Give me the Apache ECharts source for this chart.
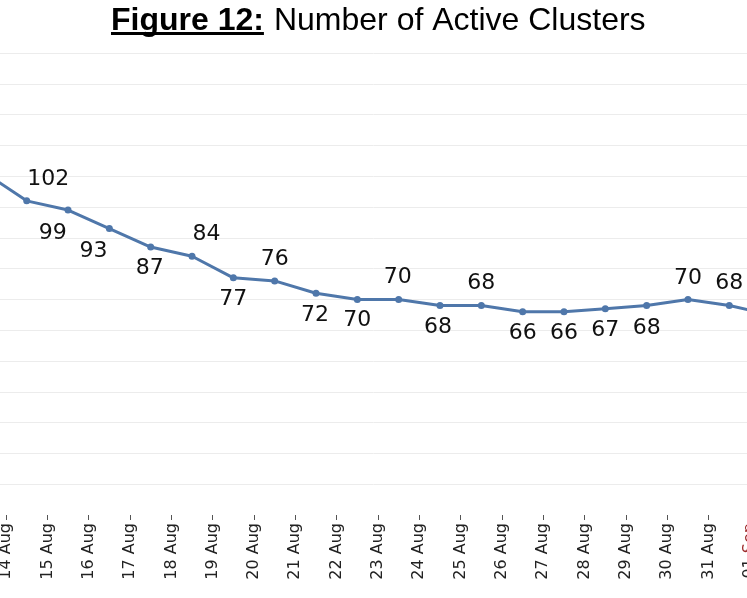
<!DOCTYPE html>
<html>
<head>
<meta charset="utf-8">
<title>Number of Active Clusters</title>
<script src="https://cdn.jsdelivr.net/npm/echarts@6.0.0/dist/echarts.min.js"></script>
<style>
  html, body { margin: 0; padding: 0; background: #fff; }
  #chart { width: 747px; height: 598px; }
</style>
</head>
<body>
<div id="chart"></div>
<script>
// one point per day, the picture is cropped so 13 Aug and 01 Sep sit off the edges
const pointDates = [
  "13 Aug", "14 Aug", "15 Aug", "16 Aug", "17 Aug", "18 Aug", "19 Aug",
  "20 Aug", "21 Aug", "22 Aug", "23 Aug", "24 Aug", "25 Aug", "26 Aug",
  "27 Aug", "28 Aug", "29 Aug", "30 Aug", "31 Aug", "01 Sep"
];

// tick labels sit on the boundaries between points
const tickLabels = [
  "13 Aug", "14 Aug", "15 Aug", "16 Aug", "17 Aug", "18 Aug", "19 Aug",
  "20 Aug", "21 Aug", "22 Aug", "23 Aug", "24 Aug", "25 Aug", "26 Aug",
  "27 Aug", "28 Aug", "29 Aug", "30 Aug", "31 Aug", "01 Sep", "02 Sep"
];

const activeClusters = [
  111, 102, 99, 93, 87, 84, 77, 76, 72, 70,
  70, 68, 68, 66, 66, 67, 68, 70, 68, 65
];

// where each value label was placed by hand, relative to its point
const labelOffsets = [
  [-14, -22], [21.6, -21.7], [-15.3, 23.3], [-15.8, 22.3], [-1, 21.7],
  [14.6, -22.4], [0, 21], [0, -22], [-1, 22], [0, 21],
  [-1, -22], [-2, 22], [0, -22.5], [0, 21.5], [0, 21.5],
  [0, 22], [0, 23], [0, -21.5], [0, -22.7], [0, 22]
];

const lineColor = "#4f77aa";
const titleLeft = 111;
const titleFont = '"Liberation Sans", Arial, sans-serif';

// width of the bold part of the title, for the underline
function measureText(text, font) {
  const ctx = document.createElement("canvas").getContext("2d");
  ctx.font = font;
  return ctx.measureText(text).width;
}
const boldWidth = measureText("Figure 12:", "bold 32px " + titleFont);

// no line at zero, light lines from 10 up to 150
const gridColors = ["rgba(0,0,0,0)"];
for (let i = 0; i < 15; i++) gridColors.push("#ececec");

const chart = echarts.init(document.getElementById("chart"), null, {
  renderer: "canvas"
});

const option = {
  animation: false,
  backgroundColor: "#fff",
  title: {
    left: titleLeft,
    top: 5.5,
    padding: 0,
    text: "{a|Figure 12:}{b|Number of Active Clusters}",
    textStyle: {
      rich: {
        a: { fontFamily: titleFont, fontSize: 32, fontWeight: "bold", color: "#000" },
        b: {
          fontFamily: titleFont,
          fontSize: 32,
          fontWeight: "normal",
          color: "#000",
          padding: [0, 0, 0, 10]
        }
      }
    }
  },
  graphic: [
    {
      type: "rect",
      left: titleLeft,
      top: 32,
      shape: { width: boldWidth, height: 3 },
      style: { fill: "#000" }
    }
  ],
  grid: {
    left: -35.3,
    right: -44.3,
    top: 53,
    bottom: 83,
    containLabel: false,
    outerBoundsMode: "none"
  },
  xAxis: [
    {
      type: "category",
      data: pointDates,
      position: "bottom",
      boundaryGap: true,
      axisLine: { show: false },
      axisTick: { show: false },
      axisLabel: { show: false },
      splitLine: { show: false }
    },
    {
      type: "category",
      data: tickLabels,
      position: "bottom",
      boundaryGap: false,
      axisLine: { show: false },
      axisTick: {
        show: true,
        length: 5,
        interval: 0,
        lineStyle: { color: "#555", width: 1 }
      },
      axisLabel: {
        interval: 0,
        rotate: 90,
        margin: 8,
        fontFamily: "DejaVu Sans",
        fontSize: 16,
        color: "#222",
        formatter: function (val) {
          const parts = val.split(" ");
          return parts[1] === "Sep"
            ? `{n|${parts[0]}} {s|${parts[1]}}`
            : val;
        },
        rich: {
          n: { fontFamily: "DejaVu Sans", fontSize: 16, color: "#222" },
          s: { fontFamily: "DejaVu Sans", fontSize: 16, color: "#9c2a2a" }
        }
      },
      splitLine: { show: false }
    }
  ],
  yAxis: {
    type: "value",
    min: 0,
    max: 150,
    interval: 10,
    axisLine: { show: false },
    axisTick: { show: false },
    axisLabel: { show: false },
    splitLine: {
      show: true,
      lineStyle: { color: gridColors, width: 1 }
    }
  },
  series: [
    {
      name: "Active Clusters",
      type: "line",
      xAxisIndex: 0,
      data: activeClusters.map((v, i) => ({
        value: v,
        label: { offset: labelOffsets[i] }
      })),
      symbol: "circle",
      symbolSize: 7,
      showAllSymbol: true,
      lineStyle: { color: lineColor, width: 3 },
      itemStyle: { color: lineColor },
      label: {
        show: true,
        position: "inside",
        fontFamily: "DejaVu Sans",
        fontSize: 22,
        color: "#111"
      }
    }
  ]
};

chart.setOption(option);
</script>
</body>
</html>
